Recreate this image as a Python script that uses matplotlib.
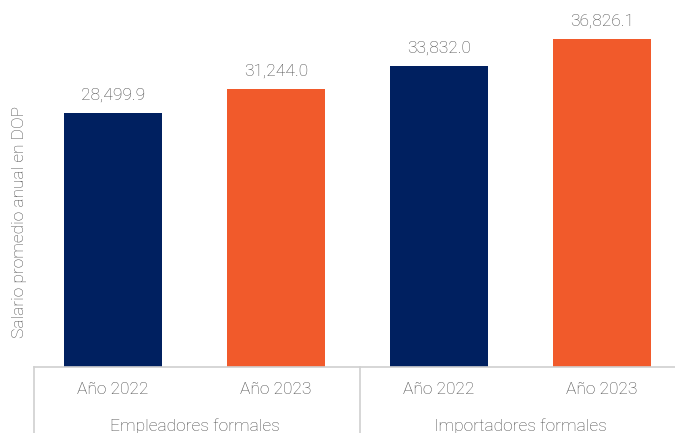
import matplotlib
matplotlib.use("Agg")
import matplotlib.pyplot as plt
from matplotlib.lines import Line2D

groups = ["Empleadores formales", "Importadores formales"]
years = ["Año 2022", "Año 2023"]
values = [28499.9, 31244.0, 33832.0, 36826.1]
colors = ["#002060", "#F15A2B", "#002060", "#F15A2B"]
ylabel = "Salario promedio anual en DOP"

plt.rcParams['font.family'] = ['Roboto', 'DejaVu Sans']
W, H = 675, 433
fig = plt.figure(figsize=(W/100, H/100), dpi=100)
left_px, right_px, base_px, top_px = 31.6, 683.6, 367, 0
ax = fig.add_axes([left_px/W, (H-base_px)/H, (right_px-left_px)/W, (base_px-top_px)/H])
px_per_unit = (367-39)/36826.1
ax.set_ylim(0, (base_px-top_px)/px_per_unit)
ax.set_xlim(-0.5, 3.5)
xs = list(range(len(values)))
ax.bar(xs, values, width=0.6, color=colors)
tc = "#4a4a4a"
fs = 12.5
for x, v in zip(xs, values):
    ax.annotate(f"{v:,.1f}", (x, v), xytext=(0, 9.5), textcoords="offset points",
                ha="center", va="baseline", fontsize=fs, color=tc, fontweight="light")
for s in ax.spines.values():
    s.set_visible(False)
ax.set_yticks([])
ax.set_xticks([])

gray = "#D0D0D0"
fig.add_artist(Line2D([33.6/W, 1], [(H-base_px)/H]*2, color=gray, lw=1.2, transform=fig.transFigure))
for xp in [33.6, 360]:
    fig.add_artist(Line2D([xp/W]*2, [0, (H-base_px)/H], color=gray, lw=1.2, transform=fig.transFigure))

ytr = ax.get_xaxis_transform()
for i, x in enumerate(xs):
    ax.text(x, -(390-base_px)/(base_px-top_px), years[i % 2], transform=ytr, ha="center", va="center",
            fontsize=fs, color=tc, fontweight="light")
for g, gname in enumerate(groups):
    ax.text(2*g+0.5, -(426-base_px)/(base_px-top_px), gname, transform=ytr,
            ha="center", va="center", fontsize=fs, color=tc, fontweight="light")

fig.text(20/W, 1-(222/H), ylabel, rotation=90, ha="center", va="center",
         fontsize=fs, color=tc, fontweight="light")

fig.savefig("out.png", dpi=100)
